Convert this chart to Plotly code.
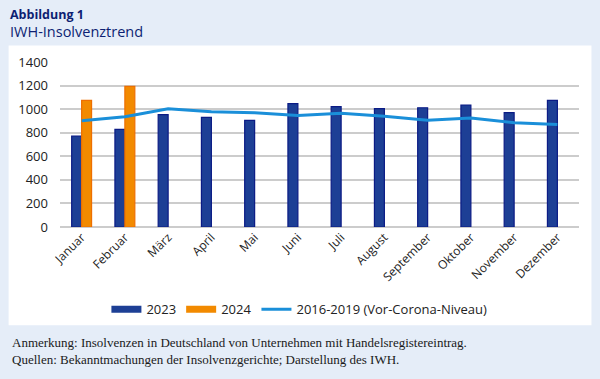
import plotly.graph_objects as go

months = ["Januar", "Februar", "März", "April", "Mai", "Juni", "Juli",
          "August", "September", "Oktober", "November", "Dezember"]
y2023 = [772, 829, 953, 930, 905, 1046, 1021, 1004, 1012, 1035, 970, 1075]
y2024 = [1075, 1193, None, None, None, None, None, None, None, None, None, None]
pre_corona = [902, 935, 1003, 978, 970, 947, 966, 939, 905, 925, 885, 869]
y_ticks = [0, 200, 400, 600, 800, 1000, 1200, 1400]

W, H = 600, 379
L, R, T, B = 59.5, 579.5, 61.5, 226.7

def px(x):
    return (x - L) / (R - L)

def py(y):
    return (B - y) / (B - T)

C23, C23_EDGE = "#1d3f95", "#0b1b85"
C24, C24_EDGE = "#f28a00", "#ee6f00"
CLINE = "#1a8fd9"

fig = go.Figure()
fig.add_trace(go.Bar(x=months, y=y2023, name="2023", showlegend=False,
                     marker=dict(color=C23, line=dict(color=C23_EDGE, width=1.2))))
fig.add_trace(go.Bar(x=months, y=y2024, name="2024", showlegend=False,
                     marker=dict(color=C24, line=dict(color=C24_EDGE, width=1.2))))
fig.add_trace(go.Scatter(x=months, y=pre_corona, name="2016-2019 (Vor-Corona-Niveau)",
                         mode="lines", line=dict(color=CLINE, width=3), showlegend=False))
# legend entries (wide rectangular swatches like the original)
fig.add_trace(go.Scatter(x=[None], y=[None], name="2023", mode="lines",
                         line=dict(color=C23, width=7)))
fig.add_trace(go.Scatter(x=[None], y=[None], name="2024", mode="lines",
                         line=dict(color=C24, width=7)))
fig.add_trace(go.Scatter(x=[None], y=[None], name="2016-2019 (Vor-Corona-Niveau)", mode="lines",
                         line=dict(color=CLINE, width=3)))

font_fam = "Open Sans, Lato, sans-serif"
fig.update_layout(
    width=W, height=H,
    margin=dict(l=L, r=W - R, t=T, b=H - B, autoexpand=False),
    paper_bgcolor="#e5edf8",
    plot_bgcolor="white",
    barmode="group", bargap=0.54, bargroupgap=0,
    font=dict(family=font_fam, size=12, color="#222222"),
    showlegend=True,
    legend=dict(orientation="h", x=px(106), xanchor="left", y=py(309), yanchor="middle",
                font=dict(size=13, color="#222222"), bgcolor="rgba(0,0,0,0)",
                itemwidth=30, traceorder="normal"),
    xaxis=dict(tickangle=-45, showgrid=False, showline=False, ticks="",
               tickfont=dict(size=12), fixedrange=True),
    yaxis=dict(range=[0, 1400], tickvals=y_ticks, gridcolor="#cccccc", gridwidth=1.5,
               zeroline=True, zerolinecolor="#cccccc", zerolinewidth=1.5,
               showline=False, ticks="", tickfont=dict(size=13), ticklabelstandoff=11),
)

# white panel
fig.add_shape(type="rect", xref="paper", yref="paper", layer="below",
              x0=px(8), x1=px(592), y0=py(325), y1=py(45),
              fillcolor="white", line=dict(width=0))

fig.add_annotation(text="<span style='font-size:12.5px'><b>Abbildung 1</b></span><br>"
                        "<span style='font-size:14.5px'>IWH-Insolvenztrend</span>",
                   xref="paper", yref="paper", align="left",
                   x=px(7), y=py(3), xanchor="left", yanchor="top", showarrow=False,
                   font=dict(family=font_fam, size=14, color="#0d1f73"))
fig.add_annotation(text="Anmerkung: Insolvenzen in Deutschland von Unternehmen mit Handelsregistereintrag."
                        "<br>Quellen: Bekanntmachungen der Insolvenzgerichte; Darstellung des IWH.",
                   xref="paper", yref="paper", x=px(9), y=py(351), xanchor="left", yanchor="middle",
                   align="left", showarrow=False,
                   font=dict(family="Liberation Serif, serif", size=13, color="#1a1a1a"))

fig.write_html("out.html", config={"displayModeBar": False},
               post_script="document.body.style.margin='0';document.body.style.background='#e5edf8';")
